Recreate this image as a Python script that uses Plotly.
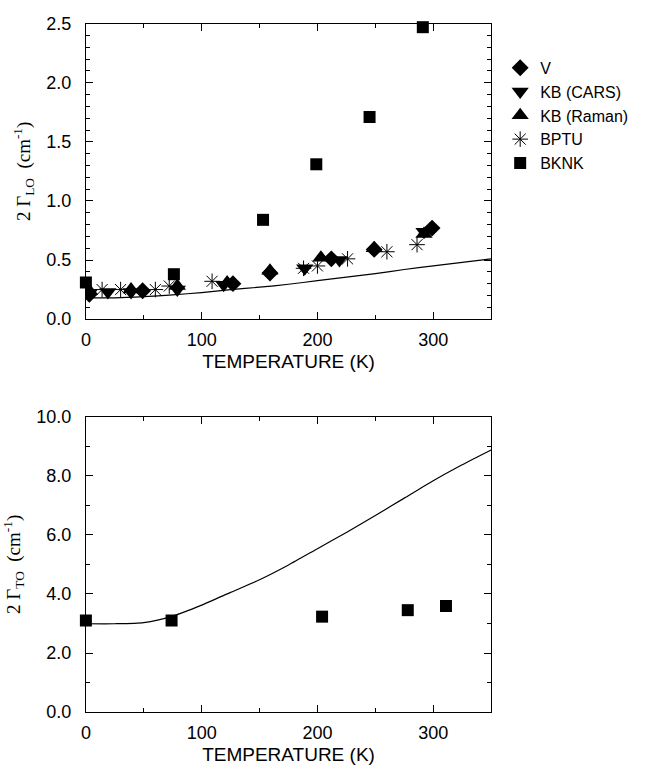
import plotly.graph_objects as go

# ---------------- data (top panel: 2 Gamma_LO) ----------------
v_T = [3, 49, 127, 159, 212, 249, 299]
v_G = [0.21, 0.24, 0.30, 0.39, 0.51, 0.59, 0.77]

kbc_T = [3, 19, 39, 79, 119, 189, 219, 292]
kbc_G = [0.22, 0.23, 0.23, 0.25, 0.29, 0.43, 0.50, 0.74]

kbr_T = [3, 39, 79, 122, 159, 203, 249, 292]
kbr_G = [0.24, 0.25, 0.28, 0.31, 0.41, 0.52, 0.60, 0.72]

bptu_T = [14, 30, 60, 72, 109, 188, 200, 226, 260, 286]
bptu_G = [0.25, 0.25, 0.25, 0.28, 0.32, 0.43, 0.45, 0.51, 0.57, 0.63]

bknk_T = [0, 76, 153, 199, 245, 291]
bknk_G = [0.31, 0.38, 0.84, 1.31, 1.71, 2.47]

theoryLO_T = [0, 25, 50, 75, 100, 125, 150, 175, 200, 225, 250, 275, 300, 325, 350]
theoryLO_G = [0.18, 0.18, 0.19, 0.205, 0.225, 0.25, 0.27, 0.295, 0.325, 0.355,
              0.385, 0.42, 0.45, 0.48, 0.51]

# ---------------- data (bottom panel: 2 Gamma_TO) ----------------
bknkTO_T = [0, 74, 204, 278, 311]
bknkTO_G = [3.10, 3.10, 3.23, 3.45, 3.59]

theoryTO_T = [0, 25, 50, 75, 100, 125, 150, 175, 200, 225, 250, 275, 300, 325, 350]
theoryTO_G = [2.99, 2.99, 3.03, 3.25, 3.62, 4.05, 4.48, 4.98, 5.53, 6.08, 6.65,
              7.24, 7.83, 8.37, 8.87]

x_ticks = [0, 100, 200, 300]

fig = go.Figure()

fig.add_trace(go.Scatter(x=theoryLO_T, y=theoryLO_G, mode="lines",
                         line=dict(color="black", width=1.2, shape="spline",
                                   smoothing=0.6),
                         showlegend=False, xaxis="x", yaxis="y"))
fig.add_trace(go.Scatter(x=v_T, y=v_G, mode="markers", name="V",
                         marker=dict(symbol="diamond", color="black", size=13),
                         xaxis="x", yaxis="y"))
fig.add_trace(go.Scatter(x=kbc_T, y=kbc_G, mode="markers", name="KB (CARS)",
                         marker=dict(symbol="triangle-down", color="black", size=15),
                         xaxis="x", yaxis="y"))
fig.add_trace(go.Scatter(x=kbr_T, y=kbr_G, mode="markers", name="KB (Raman)",
                         marker=dict(symbol="triangle-up", color="black", size=15),
                         xaxis="x", yaxis="y"))
fig.add_trace(go.Scatter(x=bptu_T, y=bptu_G, mode="markers", name="BPTU",
                         marker=dict(symbol="asterisk-open", color="black", size=13,
                                     line=dict(color="black", width=1)),
                         xaxis="x", yaxis="y"))
fig.add_trace(go.Scatter(x=bknk_T, y=bknk_G, mode="markers", name="BKNK",
                         marker=dict(symbol="square", color="black", size=12),
                         cliponaxis=False, xaxis="x", yaxis="y"))

fig.add_trace(go.Scatter(x=theoryTO_T, y=theoryTO_G, mode="lines",
                         line=dict(color="black", width=1.2, shape="spline",
                                   smoothing=0.6),
                         showlegend=False, xaxis="x2", yaxis="y2"))
fig.add_trace(go.Scatter(x=bknkTO_T, y=bknkTO_G, mode="markers", showlegend=False,
                         marker=dict(symbol="square", color="black", size=12),
                         cliponaxis=False, xaxis="x2", yaxis="y2"))

W, H = 667, 776
xdom = [81.5 / W, 489.8 / W]
ydom_top = [1 - 317.3 / H, 1 - 14 / H]
ydom_bot = [1 - 720.7 / H, 1 - 417.3 / H]

tickfont = dict(family="Liberation Sans, Arial, sans-serif", size=18, color="black")
titlefont_x = dict(family="Liberation Sans, Arial, sans-serif", size=19, color="black")
titlefont_y = dict(family="Liberation Serif, Times New Roman, serif", size=19, color="black")

common_x = dict(range=[0, 350], tickvals=x_ticks, ticks="inside", ticklen=7,
                tickwidth=1.3, tickcolor="black", showline=True, linecolor="black",
                linewidth=1.2, mirror="ticks", showgrid=False, zeroline=False,
                tickfont=tickfont, ticklabelstandoff=4,
                minor=dict(dtick=50, tick0=0, ticks="inside", ticklen=4, tickwidth=1.2,
                           tickcolor="black", showgrid=False),
                title=dict(text="TEMPERATURE (K)", font=titlefont_x, standoff=5),
                domain=xdom)
common_y = dict(ticks="inside", ticklen=7, tickwidth=1.3, tickcolor="black",
                showline=True, linecolor="black", linewidth=1.2, mirror="ticks",
                showgrid=False, zeroline=False, tickfont=tickfont, tickformat=".1f",
                ticklabelstandoff=10)

fig.update_layout(
    width=W, height=H,
    margin=dict(l=0, r=0, t=0, b=0),
    paper_bgcolor="white", plot_bgcolor="white",
    xaxis=dict(common_x, anchor="y"),
    yaxis=dict(common_y, range=[0, 2.5], dtick=0.5, tick0=0, domain=ydom_top,
               anchor="x",
               minor=dict(dtick=0.1, tick0=0, ticks="inside", ticklen=4, tickwidth=1.2,
                          tickcolor="black", showgrid=False),
               title=dict(text="2 Γ<sub>LO</sub>  (cm<sup>-1</sup>)", font=titlefont_y,
                          standoff=10)),
    xaxis2=dict(common_x, anchor="y2"),
    yaxis2=dict(common_y, range=[0, 10], dtick=2, tick0=0, domain=ydom_bot,
                anchor="x2",
                minor=dict(dtick=1, tick0=0, ticks="inside", ticklen=4, tickwidth=1.2,
                           tickcolor="black", showgrid=False),
                title=dict(text="2 Γ<sub>TO</sub>  (cm<sup>-1</sup>)", font=titlefont_y,
                           standoff=10)),
    legend=dict(x=0.748, y=0.946, xanchor="left", yanchor="top",
                font=dict(family="Liberation Sans, Arial, sans-serif", size=16,
                          color="black"),
                bgcolor="rgba(0,0,0,0)", itemwidth=30, tracegroupgap=0),
    showlegend=True,
)

fig.write_html("out.html")
